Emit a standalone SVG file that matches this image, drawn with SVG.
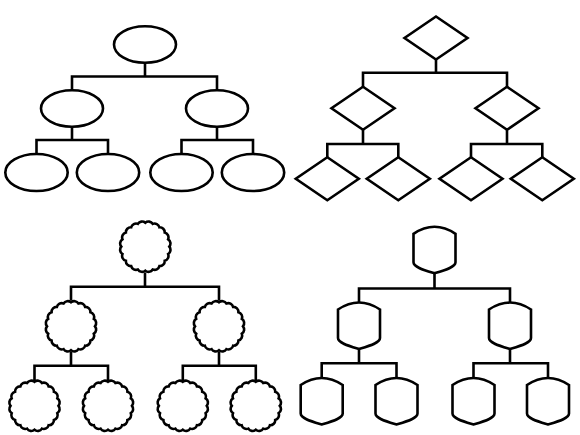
<svg xmlns="http://www.w3.org/2000/svg" xmlns:xlink="http://www.w3.org/1999/xlink" width="580" height="435" viewBox="0 0 580 435">
<style>
.n{fill:#fff;stroke:#000;stroke-width:2.6;stroke-linejoin:miter}
.c{fill:none;stroke:#000;stroke-width:2.6;stroke-linejoin:miter}
</style>
<defs>
<path id="scallop" d="M24,0 A5,5 0 0 1 22.83,7.42 A5,5 0 0 1 19.42,14.11 A5,5 0 0 1 14.11,19.42 A5,5 0 0 1 7.42,22.83 A5,5 0 0 1 0,24 A5,5 0 0 1 -7.42,22.83 A5,5 0 0 1 -14.11,19.42 A5,5 0 0 1 -19.42,14.11 A5,5 0 0 1 -22.83,7.42 A5,5 0 0 1 -24,0 A5,5 0 0 1 -22.83,-7.42 A5,5 0 0 1 -19.42,-14.11 A5,5 0 0 1 -14.11,-19.42 A5,5 0 0 1 -7.42,-22.83 A5,5 0 0 1 0,-24 A5,5 0 0 1 7.42,-22.83 A5,5 0 0 1 14.11,-19.42 A5,5 0 0 1 19.42,-14.11 A5,5 0 0 1 22.83,-7.42 A5,5 0 0 1 24,0 Z"/>
<path id="shield" d="M-21,7.5 Q0,-6.5 21,7.5 L21,36 C21,41 10,44 0,47 C-10,44 -21,41 -21,36 Z"/>
<path id="diamond" d="M0,-21.5 L31.5,0 L0,21.5 L-31.5,0 Z"/>
</defs>
<g id="connectors">
<path class="c" d="M145,62.8 V76.5 M72,90.3 V76.5 H217 V90.3"/>
<path class="c" d="M72,126.7 V140 M36.5,154 V140 H108 V154"/>
<path class="c" d="M217,126.7 V140 M181.5,154 V140 H253 V154"/>
<path class="c" d="M436,59.5 V72.7 M363,87 V72.7 H507 V87"/>
<path class="c" d="M363,129.8 V144 M327.3,157.3 V144 H398.3 V157.3"/>
<path class="c" d="M507,129.8 V144 M471,157.3 V144 H542.3 V157.3"/>
<path class="c" d="M145,272.4 V286.7 M71,300.6 V286.7 H219 V300.6"/>
<path class="c" d="M71,352 V365.7 M34.5,380.1 V365.7 H108 V380.1"/>
<path class="c" d="M219,352 V365.7 M182.8,380.1 V365.7 H255.8 V380.1"/>
<path class="c" d="M434.5,273.3 V288.5 M359,302.5 V288.5 H510 V302.5"/>
<path class="c" d="M359,349 V363.3 M321.7,377.5 V363.3 H396.5 V377.5"/>
<path class="c" d="M510,349 V363.3 M473.5,377.5 V363.3 H548 V377.5"/>
</g>
<g id="ellipse-root"><ellipse class="n" cx="145" cy="44.5" rx="31" ry="18.3"/></g>
<g id="ellipse-l"><ellipse class="n" cx="72" cy="108.5" rx="31" ry="18.2"/></g>
<g id="ellipse-r"><ellipse class="n" cx="217" cy="108.5" rx="31" ry="18.2"/></g>
<g id="ellipse-ll"><ellipse class="n" cx="36.5" cy="172.5" rx="31.2" ry="18.5"/></g>
<g id="ellipse-lr"><ellipse class="n" cx="108" cy="172.5" rx="31.2" ry="18.5"/></g>
<g id="ellipse-rl"><ellipse class="n" cx="181.5" cy="172.5" rx="31.2" ry="18.5"/></g>
<g id="ellipse-rr"><ellipse class="n" cx="253" cy="172.5" rx="31.2" ry="18.5"/></g>
<g id="diamond-root"><use xlink:href="#diamond" class="n" x="436" y="38"/></g>
<g id="diamond-l"><use xlink:href="#diamond" class="n" x="363" y="108.3"/></g>
<g id="diamond-r"><use xlink:href="#diamond" class="n" x="507" y="108.3"/></g>
<g id="diamond-ll"><use xlink:href="#diamond" class="n" x="327.3" y="178.8"/></g>
<g id="diamond-lr"><use xlink:href="#diamond" class="n" x="398.3" y="178.8"/></g>
<g id="diamond-rl"><use xlink:href="#diamond" class="n" x="471" y="178.8"/></g>
<g id="diamond-rr"><use xlink:href="#diamond" class="n" x="542.3" y="178.8"/></g>
<g id="scallop-root"><use xlink:href="#scallop" class="n" x="145.3" y="246.7"/></g>
<g id="scallop-l"><use xlink:href="#scallop" class="n" x="71" y="326.3"/></g>
<g id="scallop-r"><use xlink:href="#scallop" class="n" x="219" y="326.3"/></g>
<g id="scallop-ll"><use xlink:href="#scallop" class="n" x="34.5" y="405.8"/></g>
<g id="scallop-lr"><use xlink:href="#scallop" class="n" x="108" y="405.8"/></g>
<g id="scallop-rl"><use xlink:href="#scallop" class="n" x="182.8" y="405.8"/></g>
<g id="scallop-rr"><use xlink:href="#scallop" class="n" x="255.8" y="405.8"/></g>
<g id="shield-root"><use xlink:href="#shield" class="n" x="434.5" y="226.3"/></g>
<g id="shield-l"><use xlink:href="#shield" class="n" x="359" y="302"/></g>
<g id="shield-r"><use xlink:href="#shield" class="n" x="510" y="302"/></g>
<g id="shield-ll"><use xlink:href="#shield" class="n" x="321.7" y="377.5"/></g>
<g id="shield-lr"><use xlink:href="#shield" class="n" x="396.5" y="377.5"/></g>
<g id="shield-rl"><use xlink:href="#shield" class="n" x="473.5" y="377.5"/></g>
<g id="shield-rr"><use xlink:href="#shield" class="n" x="548" y="377.5"/></g>
</svg>
